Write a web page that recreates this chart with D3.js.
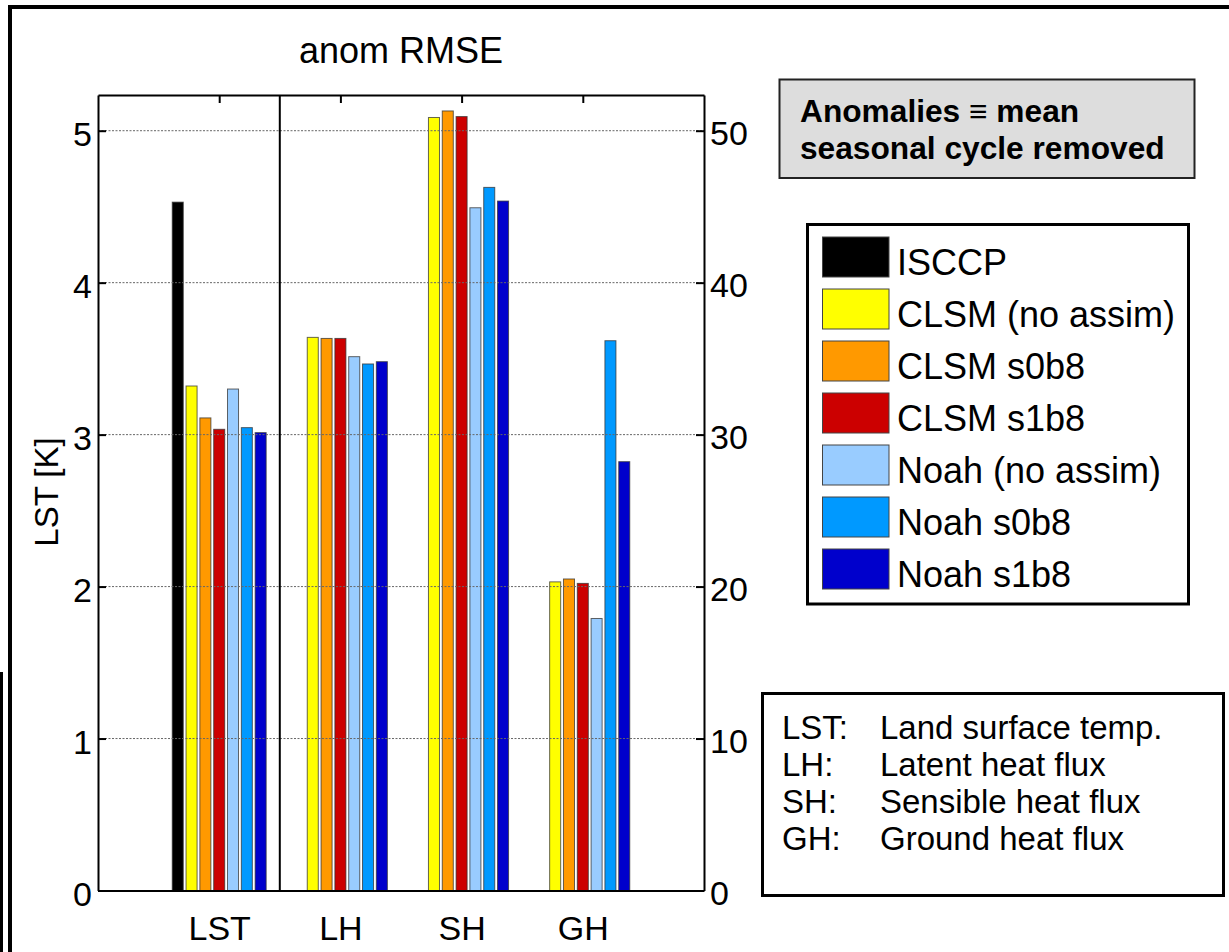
<!DOCTYPE html>
<html>
<head>
<meta charset="utf-8">
<script src="https://cdn.jsdelivr.net/npm/d3@7"></script>
<style>
  html, body { margin: 0; padding: 0; background: #fff; }
  svg { display: block; font-family: "Liberation Sans", Arial, Helvetica, sans-serif; }
</style>
</head>
<body>
<svg id="chart" width="1229" height="952"></svg>
<script>
// Variable groups along the x axis
const categories = ["LST", "LH", "SH", "GH"];
// Experiments (one bar per experiment within each group)
const seriesNames = ["ISCCP", "CLSM (no assim)", "CLSM s0b8", "CLSM s1b8",
                     "Noah (no assim)", "Noah s0b8", "Noah s1b8"];
const seriesColors = ["#000000", "#ffff00", "#ff9900", "#cc0000",
                      "#99ccff", "#0099ff", "#0000cc"];

// Anomaly RMSE: LST in K (left axis); LH, SH, GH in W/m2 (right axis)
const isccp       = [4.53, null,  null,  null];
const clsmNoAssim = [3.32, 36.40, 50.87, 20.31];
const clsmS0b8    = [3.11, 36.33, 51.30, 20.50];
const clsmS1b8    = [3.035, 36.33, 50.93, 20.21];
const noahNoAssim = [3.30, 35.13, 44.93, 17.90];
const noahS0b8    = [3.046, 34.65, 46.27, 36.18];
const noahS1b8    = [3.013, 34.80, 45.37, 28.22];
const seriesValues = [isccp, clsmNoAssim, clsmS0b8, clsmS1b8, noahNoAssim, noahS0b8, noahS1b8];

const leftTicks  = [0, 1, 2, 3, 4, 5];
const rightTicks = [0, 10, 20, 30, 40, 50];

const keyLines = [["LST:", "Land surface temp."], ["LH:", "Latent heat flux"],
                  ["SH:", "Sensible heat flux"], ["GH:", "Ground heat flux"]];

const svg = d3.select("#chart");

// Plot frame
const L = 98, R = 704, T = 95, B = 890.5;
const x  = d3.scaleLinear().domain([0, 5]).range([L, R]);
const yL = d3.scaleLinear().domain([0, 5.235]).range([B, T]);
const yR = d3.scaleLinear().domain([0, 52.35]).range([B, T]);

const step = 0.114, barW = 0.091;

// Slide border lines
svg.append("rect").attr("x", 8).attr("y", 5).attr("width", 1240).attr("height", 4).attr("fill", "#000");
svg.append("rect").attr("x", 8).attr("y", 5).attr("width", 4).attr("height", 960).attr("fill", "#000");
svg.append("rect").attr("x", 0).attr("y", 672).attr("width", 3).attr("height", 300).attr("fill", "#000");

// Title
svg.append("text").attr("x", 401).attr("y", 63).attr("text-anchor", "middle")
  .attr("font-size", 36).text("anom RMSE");

// Bars: LST on the left scale, fluxes on the right scale
const barData = [];
seriesValues.forEach((vals, s) => {
  vals.forEach((v, c) => {
    if (v == null) return;
    barData.push({ s, c, v });
  });
});
const yFor = d => (d.c === 0 ? yL : yR);
svg.append("g").selectAll("rect").data(barData).enter().append("rect")
  .attr("x", d => x(d.c + 1 + (d.s - 3) * step - barW / 2))
  .attr("width", x(barW) - x(0))
  .attr("y", d => yFor(d)(d.v))
  .attr("height", d => B - yFor(d)(d.v))
  .attr("fill", d => seriesColors[d.s])
  .attr("stroke", "#333").attr("stroke-opacity", 0.75).attr("stroke-width", 1);

// Grid lines
svg.append("g").selectAll("line").data(leftTicks.filter(t => t > 0)).enter().append("line")
  .attr("x1", L).attr("x2", R)
  .attr("y1", d => yL(d)).attr("y2", d => yL(d))
  .attr("stroke", "#666").attr("stroke-width", 1).attr("stroke-dasharray", "2,1.5");

// Separator between LST and the flux groups
svg.append("line").attr("x1", x(1.5)).attr("x2", x(1.5)).attr("y1", T).attr("y2", B)
  .attr("stroke", "#000").attr("stroke-width", 2);

function styleAxis(g) {
  g.select(".domain").attr("stroke", "#000").attr("stroke-width", 2);
  g.selectAll(".tick line").attr("stroke", "#000").attr("stroke-width", 2);
  g.selectAll("text").attr("font-family", "Liberation Sans, Arial, sans-serif").attr("fill", "#000");
}

// Left axis (LST, K)
svg.append("g").attr("transform", `translate(${L},0)`)
  .call(d3.axisLeft(yL).tickValues(leftTicks).tickFormat(d3.format("d"))
    .tickSizeInner(-8).tickSizeOuter(0).tickPadding(6))
  .call(styleAxis)
  .call(g => g.selectAll("text").attr("font-size", 34).attr("dy", "0.44em"));

// Right axis (fluxes, W/m2)
svg.append("g").attr("transform", `translate(${R},0)`)
  .call(d3.axisRight(yR).tickValues(rightTicks).tickFormat(d3.format("d"))
    .tickSizeInner(-8).tickSizeOuter(0).tickPadding(6))
  .call(styleAxis)
  .call(g => g.selectAll("text").attr("font-size", 34).attr("dy", "0.42em"));

// Top axis
svg.append("g").attr("transform", `translate(0,${T})`)
  .call(d3.axisTop(x).tickValues([1, 2, 3, 4]).tickFormat("")
    .tickSizeInner(-8).tickSizeOuter(0))
  .call(styleAxis);

// Bottom axis with group names
svg.append("g").attr("transform", `translate(0,${B})`)
  .call(d3.axisBottom(x).tickValues([1, 2, 3, 4]).tickFormat(d => categories[d - 1])
    .tickSizeInner(0).tickSizeOuter(0).tickPadding(25))
  .call(styleAxis)
  .call(g => g.selectAll("text").attr("font-size", 34));

// Y axis label
svg.append("text").attr("transform", "translate(58,492) rotate(-90)")
  .attr("text-anchor", "middle").attr("font-size", 33).text("LST [K]");

// Note box
const note = svg.append("g");
note.append("rect").attr("x", 779.5).attr("y", 79.5).attr("width", 415).attr("height", 98.5)
  .attr("fill", "#dddddd").attr("stroke", "#222").attr("stroke-width", 2);
note.append("text").attr("x", 800).attr("y", 122).attr("font-size", 31.7).attr("font-weight", "bold")
  .text("Anomalies \u2261 mean");
note.append("text").attr("x", 800).attr("y", 159).attr("font-size", 31.7).attr("font-weight", "bold")
  .text("seasonal cycle removed");

// Legend
const leg = svg.append("g");
leg.append("rect").attr("x", 807.5).attr("y", 224.5).attr("width", 381).attr("height", 379.5)
  .attr("fill", "#fff").attr("stroke", "#000").attr("stroke-width", 3);
const items = leg.selectAll("g.item").data(seriesNames).enter().append("g")
  .attr("transform", (d, i) => `translate(0,${i * 52})`);
items.append("rect").attr("x", 822.5).attr("y", 237).attr("width", 66.5).attr("height", 40)
  .attr("fill", (d, i) => seriesColors[i]).attr("stroke", "#444").attr("stroke-width", 1);
items.append("text").attr("x", 897).attr("y", 275).attr("font-size", 36).text(d => d);

// Abbreviation key
const key = svg.append("g");
key.append("rect").attr("x", 762.5).attr("y", 693.5).attr("width", 461).attr("height", 202)
  .attr("fill", "#fff").attr("stroke", "#000").attr("stroke-width", 3);
const kl = key.selectAll("g.k").data(keyLines).enter().append("g")
  .attr("transform", (d, i) => `translate(0,${739 + i * 36.9})`);
kl.append("text").attr("x", 782).attr("y", 0).attr("font-size", 33).text(d => d[0]);
kl.append("text").attr("x", 880).attr("y", 0).attr("font-size", 33).text(d => d[1]);
</script>
</body>
</html>
